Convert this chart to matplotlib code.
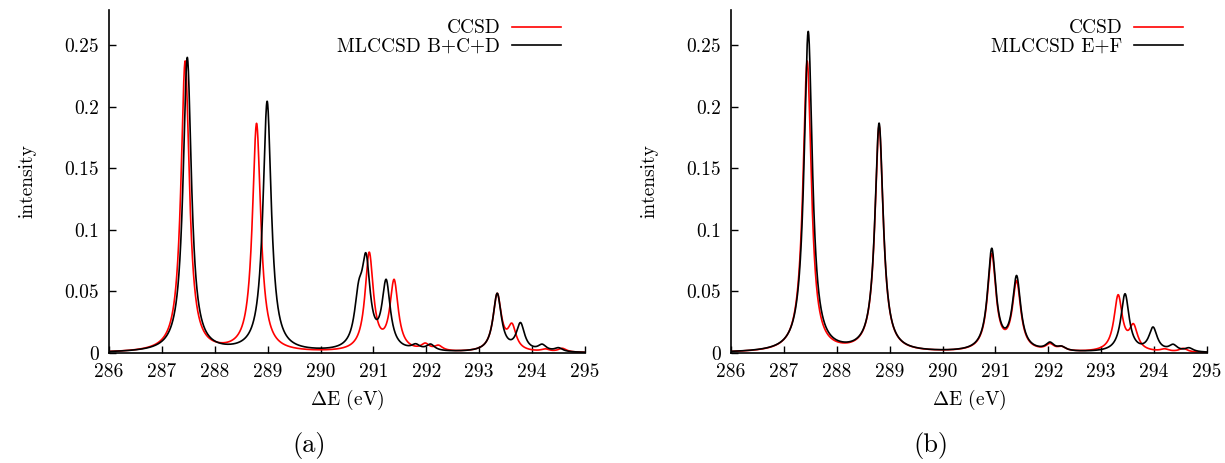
import numpy as np
import matplotlib
matplotlib.use("Agg")
import matplotlib.pyplot as plt

plt.rcParams["font.family"] = "serif"
plt.rcParams["font.serif"] = ["cmr10", "DejaVu Serif"]
plt.rcParams["mathtext.fontset"] = "cm"
plt.rcParams["axes.unicode_minus"] = False

# stick spectra (position in eV, peak intensity)
ccsd_pos = [287.44, 288.79, 290.92, 291.39, 291.98, 292.23, 293.34, 293.62, 294.25, 294.57]
ccsd_int = [0.236, 0.185, 0.079, 0.056, 0.005, 0.004, 0.046, 0.019, 0.002, 0.003]

bcd_pos = [287.48, 288.99, 290.72, 290.86, 291.24, 291.80, 292.08, 293.34, 293.78, 294.19, 294.50]
bcd_int = [0.239, 0.203, 0.035, 0.066, 0.054, 0.004, 0.005, 0.047, 0.022, 0.005, 0.003]

ccsd_b_pos = [287.44, 288.80, 290.93, 291.40, 292.03, 292.25, 293.32, 293.61, 294.20, 294.55]
ccsd_b_int = [0.236, 0.183, 0.078, 0.055, 0.005, 0.003, 0.045, 0.019, 0.002, 0.003]

ef_pos = [287.46, 288.80, 290.93, 291.40, 292.03, 292.25, 293.45, 293.98, 294.36, 294.66]
ef_int = [0.260, 0.185, 0.082, 0.059, 0.006, 0.003, 0.047, 0.019, 0.005, 0.003]

labels = ["MLCCSD B+C+D", "MLCCSD E+F"]
captions = ["(a)", "(b)"]
ytick_vals = [0, 0.05, 0.1, 0.15, 0.2, 0.25]
ytick_lbls = ["0", "0.05", "0.1", "0.15", "0.2", "0.25"]

gamma = 0.095  # half width of the lorentzian broadening
x = np.linspace(286, 295, 3000)


def spectrum(pos, inten):
    y = np.zeros_like(x)
    for p, h in zip(pos, inten):
        y += h * gamma**2 / ((x - p)**2 + gamma**2)
    return y


fig = plt.figure(figsize=(12.25, 4.63), dpi=100)
lefts = [109 / 1225, 731 / 1225]
sets = [(ccsd_pos, ccsd_int, bcd_pos, bcd_int), (ccsd_b_pos, ccsd_b_int, ef_pos, ef_int)]
fs = 14

for i in range(2):
    ax = fig.add_axes([lefts[i], 1 - 353 / 463, 476 / 1225, 343 / 463])
    rp, ri, bp, bi = sets[i]
    ax.plot(x, spectrum(rp, ri), color="#ff0000", lw=1.2, label="CCSD")
    ax.plot(x, spectrum(bp, bi), color="black", lw=1.2, label=labels[i])
    ax.set_xlim(286, 295)
    ax.set_ylim(0, 0.2784)
    ax.set_xticks(range(286, 296))
    ax.set_yticks(ytick_vals)
    ax.set_yticklabels(ytick_lbls)
    ax.spines["top"].set_visible(False)
    ax.spines["right"].set_visible(False)
    ax.spines["left"].set_linewidth(1.2)
    ax.spines["bottom"].set_linewidth(1.2)
    ax.tick_params(direction="in", length=5, width=1, labelsize=fs, pad=7)
    ax.set_xlabel(r"$\Delta$E (eV)", fontsize=fs, labelpad=5)
    ax.set_ylabel("intensity", fontsize=fs, labelpad=20)
    ax.legend(loc="upper right", frameon=False, markerfirst=False, fontsize=fs,
              handlelength=2.5, handletextpad=0.6, labelspacing=0.0,
              borderaxespad=0.0, bbox_to_anchor=(0.965, 0.995))
    ax.text(0.42, -0.27, captions[i], transform=ax.transAxes, ha="center", va="center",
            fontsize=19)

fig.savefig("out.png", dpi=100)
